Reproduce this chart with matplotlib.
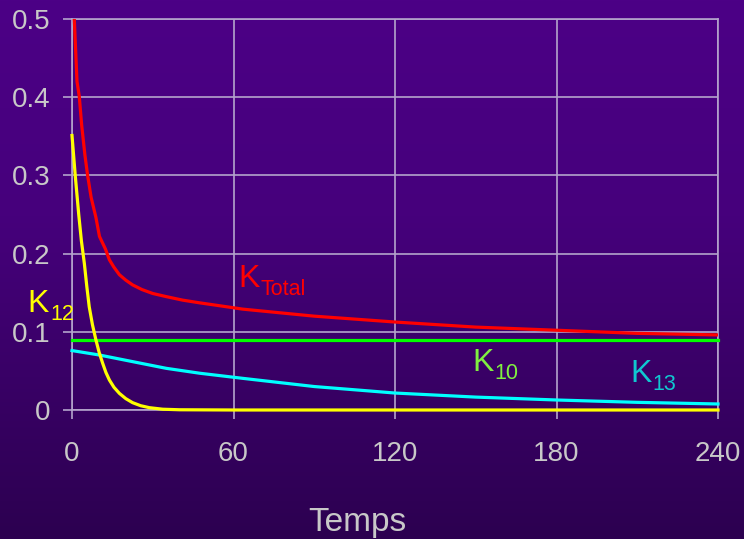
import numpy as np
import matplotlib
matplotlib.use("Agg")
import matplotlib.pyplot as plt

plt.rcParams["font.family"] = ["Liberation Sans", "DejaVu Sans"]

# Rate constants over time
t_total = [0, 1.86, 2.7, 3.6, 4.8, 5.8, 7.1, 8.9, 10.2, 12.4, 13.9, 15.5, 17.6, 20, 22.5, 26, 30,
           35, 41.1, 47.5, 53.5, 63.4, 90, 120, 150, 180, 210, 240]
k_total = [0.567, 0.420, 0.401, 0.364, 0.326, 0.300, 0.272, 0.246, 0.222, 0.206, 0.192, 0.183,
           0.173, 0.166, 0.160, 0.154, 0.149, 0.145, 0.1405, 0.137, 0.134, 0.129, 0.120, 0.1125,
           0.106, 0.102, 0.098, 0.096]

t_k10 = [0, 240]
k10 = [0.089, 0.089]

t_k13 = [0, 10.2, 35, 47.5, 63.4, 90, 120, 150, 180, 210, 240]
k13 = [0.076, 0.0703, 0.0533, 0.047, 0.0405, 0.030, 0.0217, 0.0165, 0.0128, 0.0098, 0.0077]

t_k12 = [0, 1.2, 2.5, 3.5, 4.6, 5.5, 6.4, 7.6, 8.9, 10.1, 11.4, 12.6, 13.9, 15.6, 17.6, 20, 22.5,
         25.5, 28.7, 33.7, 40, 60, 120, 180, 240]
k12 = [0.351, 0.300, 0.250, 0.216, 0.187, 0.158, 0.132, 0.109, 0.0894, 0.0735, 0.0597, 0.048,
       0.0383, 0.029, 0.0213, 0.0145, 0.0094, 0.0055, 0.003, 0.001, 0.0003, 0, 0, 0, 0]

x_ticks = [0, 60, 120, 180, 240]
y_ticks = [0, 0.1, 0.2, 0.3, 0.4, 0.5]
y_labels = ["0", "0.1", "0.2", "0.3", "0.4", "0.5"]

W, H = 744, 539
fig = plt.figure(figsize=(W / 100, H / 100), dpi=100)

# purple vertical gradient background
bg = fig.add_axes([0, 0, 1, 1], zorder=0)
n = 256
pos = np.linspace(0, 1, n)  # 0 = top, 1 = bottom
top = np.array([76, 0, 134]) / 255
mid = np.array([70, 0, 124]) / 255
bot = np.array([44, 0, 80]) / 255
cols = np.where(pos[:, None] < 0.4,
                top + (mid - top) * (pos[:, None] / 0.4),
                mid + (bot - mid) * ((pos[:, None] - 0.4) / 0.6))
bg.imshow(cols[:, None, :], aspect="auto", extent=[0, 1, 0, 1])
bg.axis("off")

ax = fig.add_axes([72 / W, (H - 410) / H, (718 - 72) / W, (410 - 19) / H], zorder=1)
ax.patch.set_alpha(0)

grid_c = "#B4A4CC"
txt_c = "#C8C8C8"

ax.set_xlim(0, 240)
ax.set_ylim(0, 0.5)
ax.set_xticks(x_ticks)
ax.set_yticks(y_ticks)
ax.set_yticklabels(y_labels)
ax.grid(True, color=grid_c, linewidth=1.2)
ax.set_axisbelow(True)
for s in ax.spines.values():
    s.set_color(grid_c)
    s.set_linewidth(1.2)
ax.tick_params(axis="x", direction="out", length=6.5, width=1.2, color=grid_c,
               labelcolor=txt_c, labelsize=20, pad=16)
ax.tick_params(axis="y", direction="out", length=6.5, width=1.2, color=grid_c,
               labelcolor=txt_c, labelsize=20, pad=9)

lw = 2.3
ax.plot(t_k10, k10, color="#00FF00", lw=lw, clip_on=False, zorder=3)
ax.plot(t_k13, k13, color="#00FFFF", lw=lw, clip_on=False, zorder=3)
ax.plot(t_total, k_total, color="#FF0000", lw=lw, zorder=4)
ax.plot(t_k12, k12, color="#FFFF00", lw=lw, clip_on=False, zorder=5)

renderer = fig.canvas.get_renderer()


def k_label(x, y, sub, color):
    """Draw 'K' with a lowered, smaller subscript right after it."""
    main = ax.text(x, y, "K", color=color, fontsize=23, ha="left", va="baseline",
                   clip_on=False, zorder=6)
    bb = main.get_window_extent(renderer)
    ax.annotate(sub, xy=(x, y), xycoords="data",
                xytext=((bb.width + 1.5) * 0.72, -8 * 0.72), textcoords="offset points",
                color=color, fontsize=15.5, ha="left", va="baseline",
                annotation_clip=False, zorder=6)


k_label(61.7, 0.157, "Total", "#FF0000")
k_label(-16.7, 0.125, "12", "#FFFF00")
k_label(148.6, 0.050, "10", "#80F040")
k_label(207.3, 0.036, "13", "#10C8D0")

fig.text(357 / W, (H - 531) / H, "Temps", color=txt_c, fontsize=24, ha="center", va="baseline")

fig.savefig("out.png", dpi=100)
